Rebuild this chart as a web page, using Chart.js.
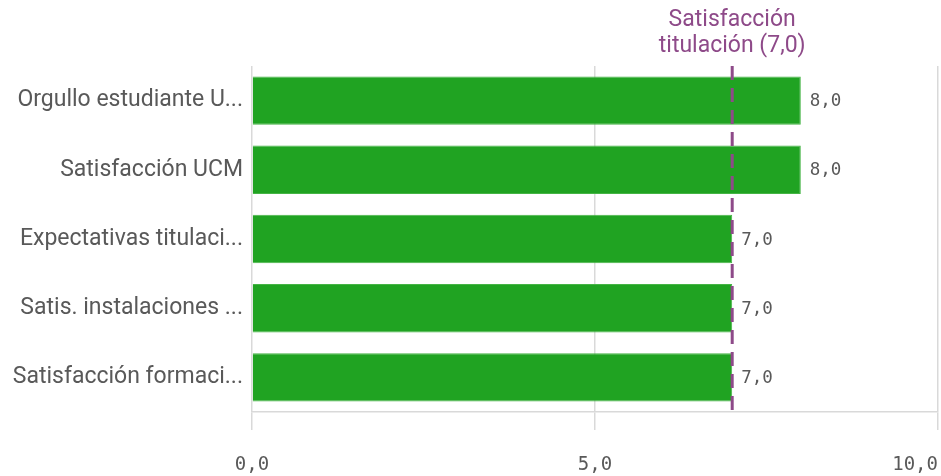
<!DOCTYPE html>
<html>
<head>
<meta charset="utf-8">
<script src="https://cdn.jsdelivr.net/npm/chart.js@4"></script>
<style>
  html, body { margin: 0; padding: 0; background: #fff; }
  #wrap { width: 941px; height: 476px; position: relative; }
</style>
</head>
<body>
<div id="wrap"><canvas id="chart"></canvas></div>
<script>
// data
const categories = [
    'Orgullo estudiante U...',
    'Satisfacción UCM',
    'Expectativas titulaci...',
    'Satis. instalaciones ...',
    'Satisfacción formaci...'
];
const values = [8.0, 8.0, 7.0, 7.0, 7.0];
const refValue = 7.0;
const refLabel = ['Satisfacción', 'titulación (7,0)'];
const xTicks = [0, 5, 10];

const GREY = '#595959';
const PURPLE = '#8e4a89';
const MONO = '"DejaVu Sans Mono", monospace';

const fmt = (v) => v.toFixed(1).replace('.', ',');

// value labels, reference line, and x tick labels
const overlay = {
    id: 'overlay',
    afterDatasetsDraw(chart) {
        const { ctx, chartArea, scales } = chart;
        const x = scales.x;
        ctx.save();

        // reference line
        const rx = x.getPixelForValue(refValue);
        ctx.strokeStyle = PURPLE;
        ctx.lineWidth = 3;
        ctx.setLineDash([14, 8]);
        ctx.beginPath();
        ctx.moveTo(rx, chartArea.top);
        ctx.lineTo(rx, chartArea.bottom + 1);
        ctx.stroke();
        ctx.setLineDash([]);

        ctx.fillStyle = PURPLE;
        ctx.font = '23px Roboto';
        ctx.textAlign = 'center';
        ctx.textBaseline = 'middle';
        ctx.fillText(refLabel[0], rx, 20);
        ctx.fillText(refLabel[1], rx, 46);

        // value labels
        const meta = chart.getDatasetMeta(0);
        ctx.fillStyle = GREY;
        ctx.font = '17.5px ' + MONO;
        ctx.textAlign = 'left';
        meta.data.forEach((bar, i) => {
            ctx.fillText(fmt(values[i]), bar.x + 9, bar.y + 1);
        });

        // x tick labels, last one kept inside the canvas
        ctx.font = '19px ' + MONO;
        xTicks.forEach((t) => {
            const txt = fmt(t);
            const w = ctx.measureText(txt).width;
            let px = x.getPixelForValue(t) - w / 2;
            px = Math.min(px, chart.width - 3 - w);
            ctx.fillText(txt, px, 465);
        });
        ctx.restore();
    }
};

new Chart(document.getElementById('chart'), {
    type: 'bar',
    data: {
        labels: categories,
        datasets: [{
            data: values,
            backgroundColor: '#20a322',
            borderColor: '#45b445',
            borderWidth: 1,
            categoryPercentage: 0.7,
            barPercentage: 1.0
        }]
    },
    options: {
        indexAxis: 'y',
        responsive: true,
        maintainAspectRatio: false,
        animation: false,
        layout: { padding: { top: 66, right: 3, left: 0, bottom: 0 } },
        plugins: {
            legend: { display: false },
            tooltip: { enabled: false }
        },
        scales: {
            x: {
                min: 0,
                max: 10,
                afterBuildTicks: (scale) => { scale.ticks = xTicks.map(v => ({ value: v })); },
                afterFit: (scale) => { scale.height = 64; },
                grid: { color: '#d9d9d9', lineWidth: 1.5, tickLength: 18, drawTicks: true },
                border: { display: true, color: '#d9d9d9', width: 1.5 },
                ticks: { display: false }
            },
            y: {
                afterFit: (scale) => { scale.width = 252; },
                grid: { display: false, drawTicks: false },
                border: { display: false },
                ticks: {
                    color: GREY,
                    font: { family: 'Roboto', size: 23 },
                    padding: 9
                }
            }
        }
    },
    plugins: [overlay]
});
</script>
</body>
</html>
